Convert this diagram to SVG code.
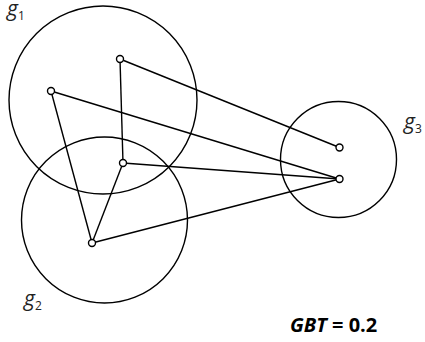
<svg xmlns="http://www.w3.org/2000/svg" width="425" height="342" viewBox="0 0 425 342">
<style>
.grp{fill:none;stroke:#000;stroke-width:1.4}
.edge{stroke:#000;stroke-width:1.4;fill:none}
.node{fill:#fff;stroke:#000;stroke-width:1.4}
.lbl{font-family:"Open Sans","Noto Sans",sans-serif;font-size:21px;font-style:italic;fill:#222}
.sub{font-size:12px;font-style:normal}
.gbt{font-family:"Open Sans","Noto Sans",sans-serif;font-size:20px;font-weight:bold;fill:#000}
</style>
<rect width="425" height="342" fill="#fff"/>
<g id="g1"><circle class="grp" cx="103" cy="100" r="94"/><text class="lbl" x="7" y="16">g<tspan class="sub" dy="4">1</tspan></text></g>
<g id="g2"><circle class="grp" cx="104.5" cy="220" r="83"/><text class="lbl" x="24" y="306">g<tspan class="sub" dy="4">2</tspan></text></g>
<g id="g3"><circle class="grp" cx="338.5" cy="159.5" r="58"/><text class="lbl" x="404" y="129">g<tspan class="sub" dy="4">3</tspan></text></g>
<g id="connectors">
<line class="edge" x1="120" y1="59" x2="339.5" y2="147.5"/>
<line class="edge" x1="120" y1="59" x2="123" y2="163"/>
<line class="edge" x1="51" y1="91" x2="339.5" y2="179"/>
<line class="edge" x1="51" y1="91" x2="92" y2="243"/>
<line class="edge" x1="123" y1="163" x2="339.5" y2="179"/>
<line class="edge" x1="123" y1="163" x2="92" y2="243"/>
<line class="edge" x1="92" y1="243" x2="339.5" y2="179"/>
</g>
<g id="nA"><circle class="node" cx="120" cy="59" r="3.5"/></g>
<g id="nB"><circle class="node" cx="51" cy="91" r="3.5"/></g>
<g id="nC"><circle class="node" cx="123" cy="163" r="3.5"/></g>
<g id="nD"><circle class="node" cx="92" cy="243" r="3.5"/></g>
<g id="nE"><circle class="node" cx="339.5" cy="147.5" r="3.5"/></g>
<g id="nF"><circle class="node" cx="339.5" cy="179" r="3.5"/></g>
<g id="gbt"><text class="gbt" x="290" y="332"><tspan font-style="italic">GBT</tspan> = 0.2</text></g>
</svg>
